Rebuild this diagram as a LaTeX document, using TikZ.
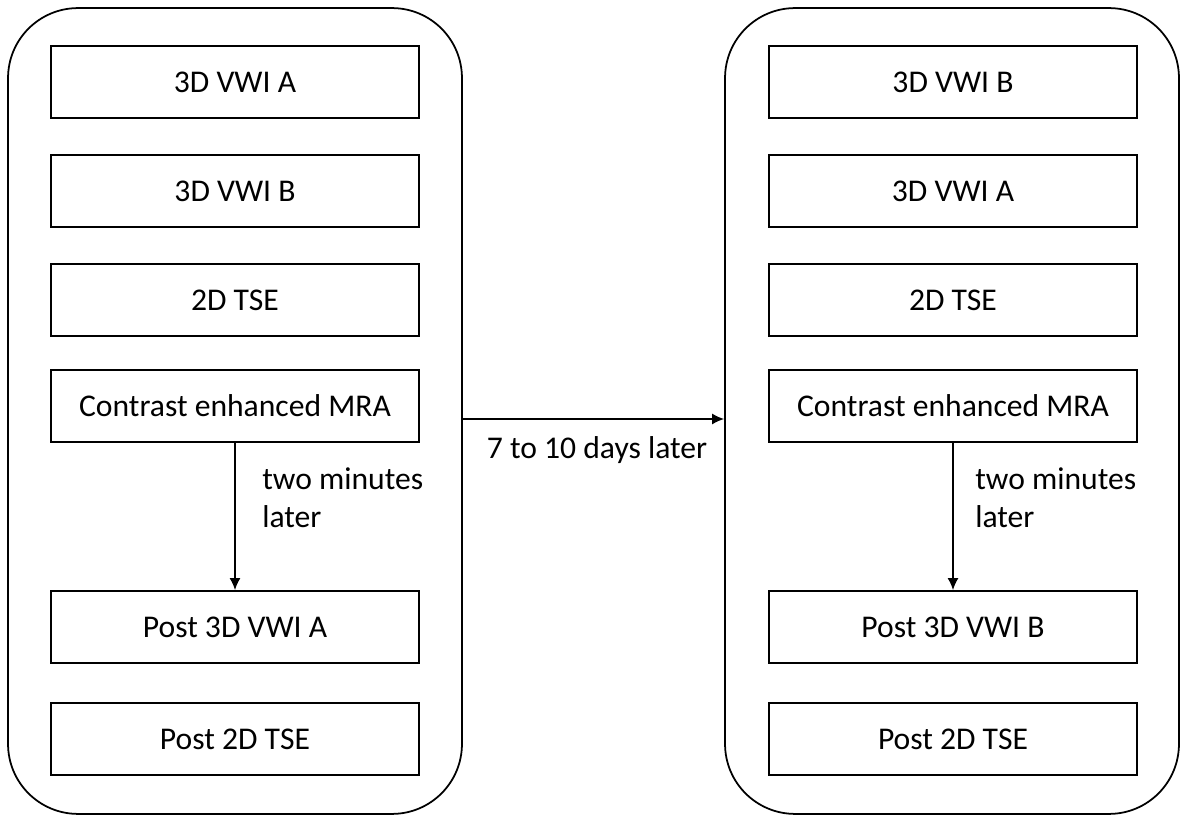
\documentclass[tikz,border=0pt]{standalone}
\usepackage{fontspec}
\setmainfont{Carlito}
\usetikzlibrary{arrows.meta}

\tikzset{
	panel/.style={draw, line width=1pt, rounded corners=1.4cm, minimum width=9.08cm, minimum height=16.12cm},
	scanbox/.style={draw, line width=1pt, minimum width=7.36cm, minimum height=1.44cm, font=\fontsize{18}{22}\selectfont},
	note/.style={align=left, font=\fontsize{18}{21.5}\selectfont, inner sep=0pt},
	link/.style={line width=1pt, -{Latex[length=0.24cm, width=0.22cm]}}
}

\begin{document}
\begin{tikzpicture}[x=0.02cm, y=-0.02cm]
		\useasboundingbox (0,0) rectangle (1184,817);
		
		\node [panel] (left) at (235,411) {};
		\node [panel] (right) at (952,411) {};
		
		\node [scanbox] (la) at (235,82) {3D VWI A};
		\node [scanbox] (lb) at (235,191) {3D VWI B};
		\node [scanbox] (lt) at (235,300) {2D TSE};
		\node [scanbox] (lm) at (235,406) {Contrast enhanced MRA};
		\node [scanbox] (lpa) at (235,627) {Post 3D VWI A};
		\node [scanbox] (lpt) at (235,739) {Post 2D TSE};
		
		\node [scanbox] (rb) at (953,82) {3D VWI B};
		\node [scanbox] (ra) at (953,191) {3D VWI A};
		\node [scanbox] (rt) at (953,300) {2D TSE};
		\node [scanbox] (rm) at (953,406) {Contrast enhanced MRA};
		\node [scanbox] (rpb) at (953,627) {Post 3D VWI B};
		\node [scanbox] (rpt) at (953,739) {Post 2D TSE};
		
		\draw [link] (lm.south) -- (lpa.north);
		\node [note, anchor=west] (lnote) at (262,498) {two minutes\\later};
		
		\draw [link] (rm.south) -- (rpb.north);
		\node [note, anchor=west] (rnote) at (975,498) {two minutes\\later};
		
		\draw [link] ([yshift=-0.16cm]left.east) -- ([yshift=-0.16cm]right.west);
		\node [note, anchor=center] (gap) at (597,450) {7 to 10 days later};
	\end{tikzpicture}
\end{document}
